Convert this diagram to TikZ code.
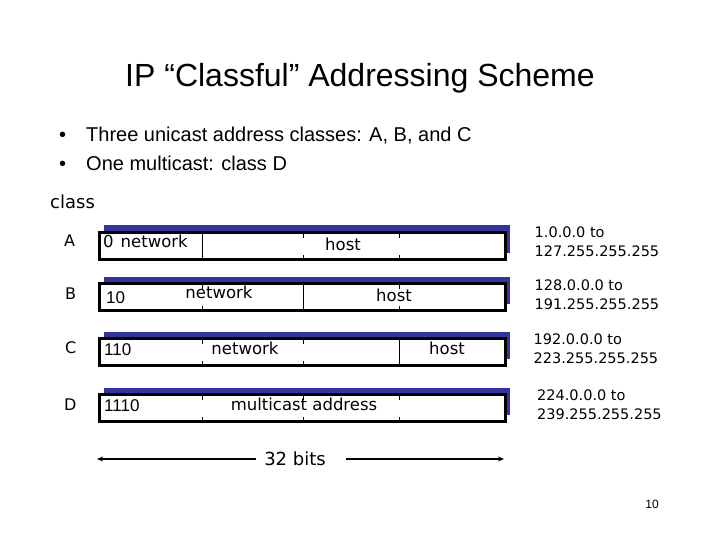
\documentclass[tikz,border=0pt]{standalone}
\usepackage{fontspec}
\setmainfont{Liberation Sans}
\newfontfamily\comic{DejaVu Sans}
\newfontfamily\rng{DejaVu Sans}
\usetikzlibrary{shadows,arrows.meta}
\definecolor{shadowblue}{RGB}{52,52,158}
\tikzset{
  field/.style={draw, line width=3pt, fill=white, minimum width=406pt, minimum height=27pt,
    anchor=north west, inner sep=0pt, outer sep=0pt,
    general shadow={fill=shadowblue, shadow xshift=4.5pt, shadow yshift=7pt}},
  divider/.style={line width=0.8pt},
  lbl/.style={inner sep=0pt, anchor=base, font=\comic\fontsize{16.5}{16.5}\selectfont},
  bitslabel/.style={inner sep=0pt, anchor=base west, font=\fontsize{17}{17}\selectfont},
  cls/.style={inner sep=0pt, anchor=base west, font=\comic\fontsize{16}{16}\selectfont},
  addrrange/.style={inner sep=0pt, anchor=base west, align=left,
    font=\rng\fontsize{14.5}{19}\selectfont},
  arr/.style={line width=2pt, -{Stealth[length=6pt,width=5pt]}},
}
\begin{document}
\begin{tikzpicture}[x=1pt,y=-1pt]
\useasboundingbox (0,0) rectangle (720,540);

% title and bullets
\node[inner sep=0pt, anchor=base, font=\fontsize{32}{32}\selectfont] (title) at (360,87) {IP “Classful” Addressing Scheme};
\node[inner sep=0pt, anchor=base west, font=\fontsize{20}{20}\selectfont] (b1) at (59,142) {•\hspace{20pt}Three unicast address classes: A, B, and C};
\node[inner sep=0pt, anchor=base west, font=\fontsize{20}{20}\selectfont] (b2) at (59,171) {•\hspace{20pt}One multicast: class D};

\node[cls, font=\comic\fontsize{18}{18}\selectfont] (class) at (50,208) {class};
\node[cls] (cA) at (64,247) {A};
\node[cls] (cB) at (65,299.5) {B};
\node[cls] (cC) at (65,353.5) {C};
\node[cls] (cD) at (64,410.5) {D};

% x positions of the field borders
\coordinate (x1) at (202,0);
\coordinate (x2) at (303,0);
\coordinate (x3) at (399,0);

% boxes
\node[field] (A) at (99.5,232.5) {};
\node[field] (B) at (99.5,283.5) {};
\node[field] (C) at (99.5,338.5) {};
\node[field] (D) at (99.5,394.5) {};

% row A
\draw[divider] (x1 |- A.north) -- (x1 |- A.south);
\foreach \x in {x2,x3} {
  \draw[divider] (\x |- A.north) -- ++(0,5);
  \draw[divider] (\x |- A.south) -- ++(0,-5);
}
% row B
\draw[divider] (x2 |- B.north) -- (x2 |- B.south);
\foreach \x in {x1,x3} {
  \draw[divider] (\x |- B.north) -- ++(0,5);
  \draw[divider] (\x |- B.south) -- ++(0,-5);
}
% row C
\draw[divider] (x3 |- C.north) -- (x3 |- C.south);
\foreach \x in {x1,x2} {
  \draw[divider] (\x |- C.north) -- ++(0,5);
  \draw[divider] (\x |- C.south) -- ++(0,-5);
}
% row D
\foreach \x in {x1,x2,x3} {
  \draw[divider] (\x |- D.north) -- ++(0,5);
  \draw[divider] (\x |- D.south) -- ++(0,-5);
}

% labels in boxes
\node[lbl, anchor=base west] (An) at (103,247.5) {0\hspace{7pt}network};
\node[lbl] (Ah) at (343,250) {host};
\node[bitslabel] (Bb) at (106,303) {10};
\node[lbl] (Bn) at (219,298.5) {network};
\node[lbl] (Bh) at (394,301.5) {host};
\node[bitslabel] (Cb) at (104,355) {110};
\node[lbl] (Cn) at (245,354) {network};
\node[lbl] (Ch) at (447,354.5) {host};
\node[bitslabel] (Db) at (104,411.5) {1110};
\node[lbl] (Dm) at (304,410.5) {multicast address};

% ranges
\node[addrrange] (rA) at (534.5,256.5) {1.0.0.0 to\\127.255.255.255};
\node[addrrange] (rB) at (534.5,309.5) {128.0.0.0 to\\191.255.255.255};
\node[addrrange] (rC) at (533.5,363) {192.0.0.0 to\\223.255.255.255};
\node[addrrange] (rD) at (537,419) {224.0.0.0 to\\239.255.255.255};

% 32 bits
\node[inner sep=0pt, anchor=base, font=\comic\fontsize{18}{18}\selectfont] (bitslbl) at (295,465.5) {32 bits};
\coordinate (aL) at (97,459);
\coordinate (aR) at (504,459);
\draw[arr] ([xshift=-8pt]bitslbl.west |- aL) -- (aL);
\draw[arr] ([xshift=20pt]bitslbl.east |- aR) -- (aR);

\node[inner sep=0pt, anchor=base, font=\fontsize{12}{12}\selectfont] (page) at (652,508) {10};
\end{tikzpicture}
\end{document}
